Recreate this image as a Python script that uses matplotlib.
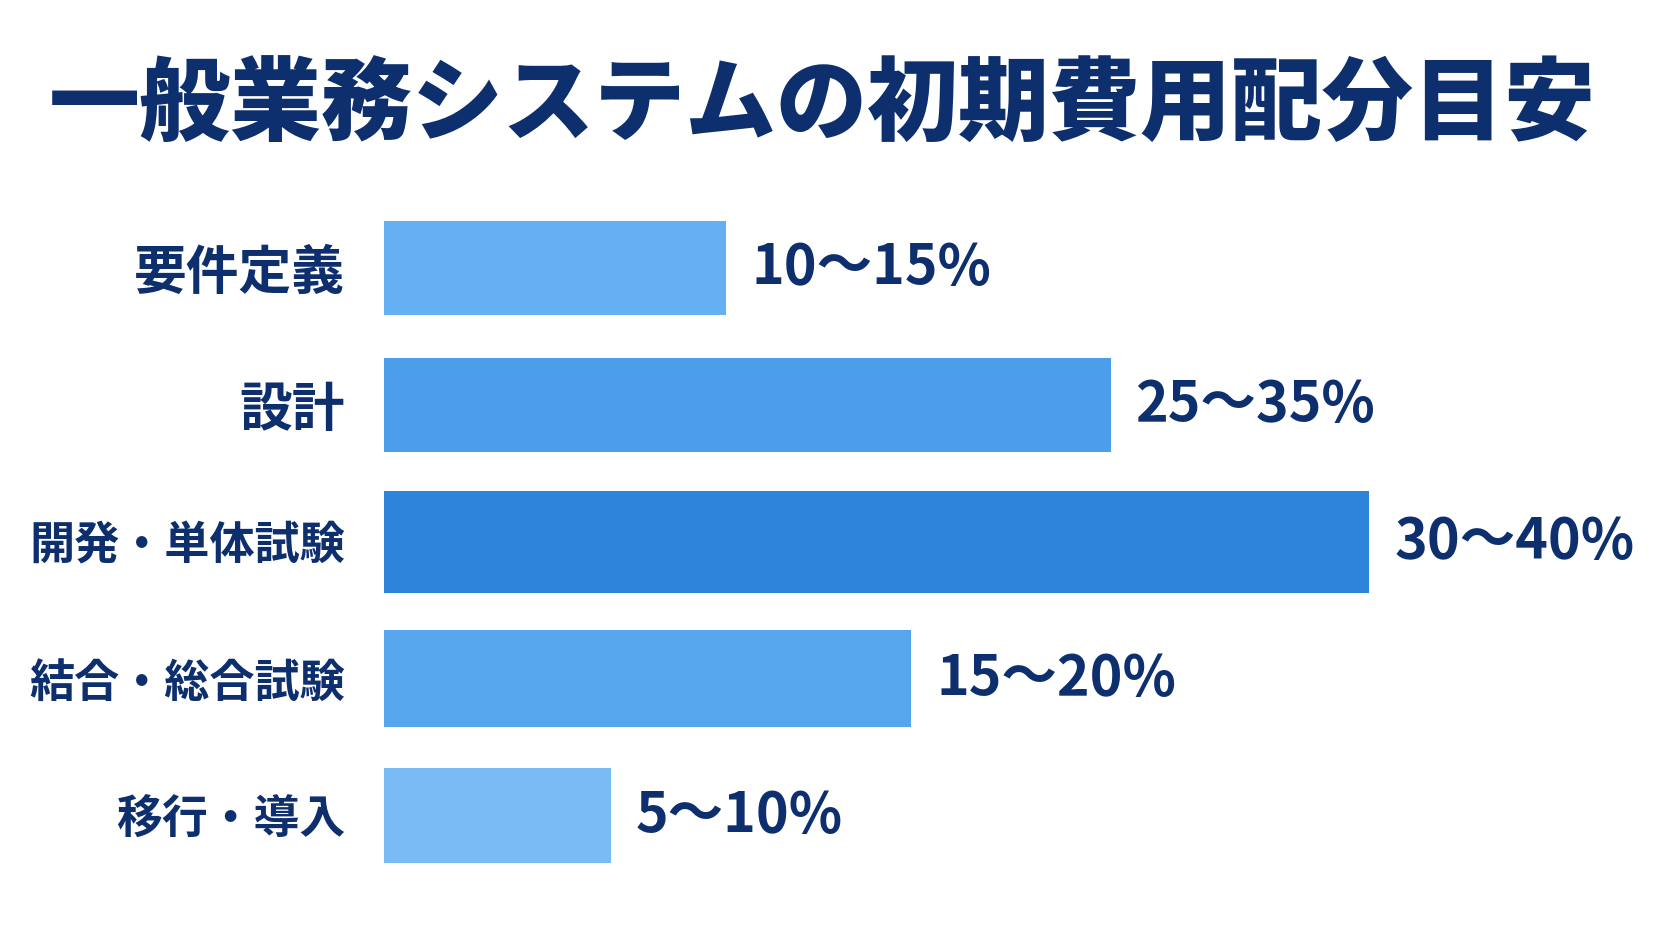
import matplotlib
matplotlib.use("Agg")
import matplotlib.pyplot as plt

plt.rcParams['font.family'] = ['Noto Sans CJK JP', 'DejaVu Sans']

# data
title = "一般業務システムの初期費用配分目安"
phases = ["要件定義", "設計", "開発・単体試験", "結合・総合試験", "移行・導入"]
bar_values = [13.9, 29.5, 40.0, 21.4, 9.2]   # bar length (relative scale)
range_labels = ["10～15%", "25～35%", "30～40%", "15～20%", "5～10%"]

# styling
bar_colors = ["#64B0F2", "#4A9EEA", "#2E84D9", "#56A6EE", "#78BBF5"]
bar_heights = [0.69, 0.69, 0.745, 0.71, 0.69]
label_sizes = [38, 38, 32.5, 32.5, 33]
navy = "#0D2F6E"

fig = plt.figure(figsize=(16.72, 9.41), dpi=100)
fig.patch.set_facecolor("white")
ax = fig.add_axes([0.2297, 0.0606, 0.7703, 0.7274])

ypos = list(range(len(phases)))
ax.barh(ypos, bar_values, height=bar_heights, color=bar_colors, edgecolor="none")

for y, v, lab in zip(ypos, bar_values, range_labels):
    ax.annotate(lab, xy=(v, y), xytext=(18, 0), textcoords="offset points",
                ha="left", va="center", fontsize=40, fontweight="bold", color=navy)

ax.set_ylim(4.5, -0.5)
ax.set_xlim(0, 52.3)
ax.set_yticks(ypos)
ax.set_yticklabels(phases, fontweight="bold", color=navy)
for tl, fs in zip(ax.get_yticklabels(), label_sizes):
    tl.set_fontsize(fs)
ax.tick_params(axis="y", length=0, pad=28)
ax.set_xticks([])
for s in ax.spines.values():
    s.set_visible(False)

fig.text(0.029, 0.886, title, ha="left", va="center", fontsize=65.5,
         fontweight="heavy", color=navy)

fig.savefig("out.png", dpi=100, facecolor="white")
